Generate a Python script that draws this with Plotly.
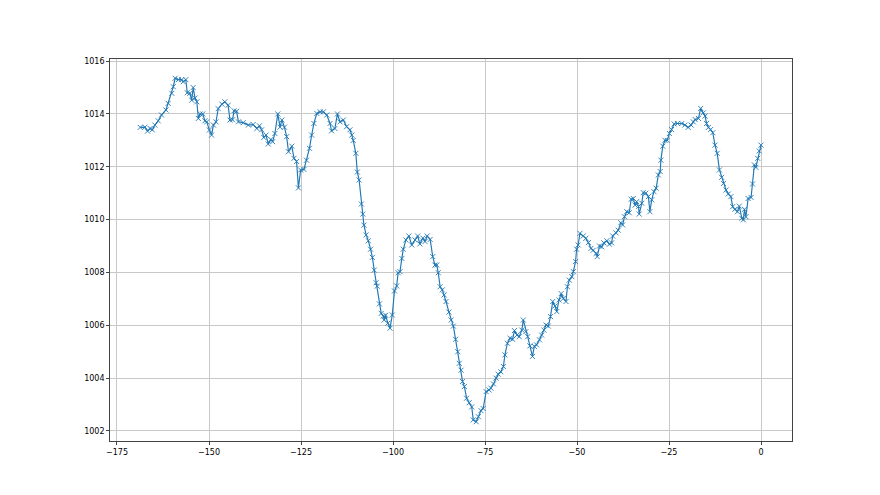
import plotly.graph_objects as go

hours = [
    -168.7, -167.4, -166.7, -166.0, -165.4, -164.7, -163.8, -162.9, -161.7, -161.1,
    -160.1, -159.7, -159.2, -158.3, -157.4, -157.0, -156.3, -155.9, -155.2, -154.7,
    -154.3, -153.8, -153.3, -152.9, -152.4, -151.7, -151.1, -150.6, -149.9, -149.3,
    -148.8, -148.1, -147.5, -146.5, -145.7, -144.8, -144.3, -143.6, -143.2, -142.5,
    -142.0, -140.7, -139.3, -138.0, -137.0, -136.3, -135.7, -135.1, -134.5, -133.9,
    -133.2, -132.7, -132.1, -131.3, -130.7, -130.2, -129.5, -128.9, -128.4, -127.5,
    -126.9, -126.2, -125.7, -125.1, -124.2, -123.5, -122.7, -122.1, -121.5, -120.7,
    -119.8, -118.9, -118.0, -117.1, -116.7, -115.8, -115.1, -114.4, -113.5, -112.6,
    -111.7, -111.2, -110.8, -110.1, -109.7, -109.2, -108.6, -108.2, -107.9, -107.3,
    -106.7, -106.1, -105.6, -105.1, -104.6, -104.3, -103.7, -103.2, -102.6, -102.4,
    -102.0, -101.4, -100.8, -100.2, -99.6, -99.0, -98.6, -98.1, -97.6, -97.2,
    -96.5, -95.7, -94.9, -94.0, -93.3, -92.7, -91.9, -91.3, -90.7, -89.9,
    -89.2, -88.6, -88.1, -87.7, -87.2, -86.6, -86.1, -85.6, -84.8, -84.2,
    -83.6, -83.0, -82.4, -82.0, -81.5, -81.1, -80.6, -80.0, -79.3, -78.6,
    -78.2, -77.4, -76.8, -76.1, -75.5, -74.7, -73.9, -73.4, -72.7, -72.0,
    -71.4, -70.7, -70.0, -69.6, -68.9, -68.2, -67.5, -67.0, -66.3, -65.7,
    -65.0, -64.6, -63.9, -63.4, -62.8, -62.1, -61.6, -61.0, -60.2, -59.6,
    -59.0, -58.4, -57.8, -57.2, -56.6, -56.0, -55.5, -54.9, -54.3, -53.7,
    -53.0, -52.6, -52.1, -51.4, -51.0, -50.4, -50.1, -49.7, -49.2, -48.3,
    -47.6, -46.9, -46.2, -45.6, -44.8, -44.5, -43.9, -43.3, -42.7, -41.9,
    -41.2, -40.6, -40.3, -39.4, -38.8, -38.1, -37.6, -37.1, -36.5, -35.8,
    -35.3, -34.7, -34.2, -33.8, -33.3, -33.1, -32.4, -32.0, -31.3, -30.6,
    -30.2, -29.7, -29.1, -28.5, -27.9, -27.4, -27.2, -26.7, -26.1, -25.5,
    -24.9, -24.3, -23.6, -22.7, -21.5, -20.7, -19.8, -19.0, -18.4, -17.9,
    -17.0, -16.4, -15.7, -15.2, -14.8, -14.3, -13.7, -13.1, -12.5, -11.9,
    -11.3, -10.7, -10.2, -9.5, -8.9, -8.2, -7.7, -7.1, -6.4, -5.9,
    -5.2, -4.8, -4.5, -4.1, -3.5, -2.7, -2.3, -1.8, -1.4, -0.9,
    -0.5, 0.0,
]

pressure = [
    1013.49, 1013.50, 1013.35, 1013.45, 1013.40, 1013.58, 1013.74, 1013.96, 1014.15, 1014.40,
    1014.78, 1015.03, 1015.35, 1015.30, 1015.30, 1015.22, 1015.30, 1014.80, 1014.78, 1014.52,
    1015.00, 1014.60, 1014.46, 1013.83, 1014.00, 1014.00, 1013.74, 1013.70, 1013.39, 1013.20,
    1013.58, 1013.70, 1014.20, 1014.37, 1014.46, 1014.33, 1013.77, 1013.78, 1014.12, 1014.10,
    1013.70, 1013.67, 1013.58, 1013.60, 1013.45, 1013.55, 1013.40, 1013.11, 1013.20, 1012.86,
    1013.03, 1012.95, 1013.26, 1014.00, 1013.50, 1013.77, 1013.50, 1013.14, 1012.57, 1012.78,
    1012.32, 1012.20, 1011.20, 1011.88, 1011.90, 1012.25, 1012.70, 1013.20, 1013.64, 1014.02,
    1014.08, 1014.08, 1013.96, 1013.64, 1013.36, 1013.45, 1014.00, 1013.70, 1013.77, 1013.52,
    1013.40, 1013.20, 1013.00, 1012.51, 1011.80, 1011.50, 1010.59, 1010.21, 1009.79, 1009.42,
    1009.20, 1008.88, 1008.57, 1008.09, 1007.61, 1007.48, 1006.81, 1006.45, 1006.35, 1006.20,
    1006.38, 1006.08, 1005.89, 1006.39, 1007.30, 1007.49, 1007.99, 1008.03, 1008.53, 1008.88,
    1009.23, 1009.38, 1009.04, 1009.23, 1009.38, 1009.08, 1009.30, 1009.17, 1009.38, 1009.25,
    1008.60, 1008.28, 1008.28, 1007.99, 1007.46, 1007.34, 1007.15, 1006.90, 1006.50, 1006.20,
    1005.97, 1005.47, 1005.00, 1004.56, 1004.30, 1003.87, 1003.68, 1003.24, 1003.07, 1002.91,
    1002.42, 1002.35, 1002.54, 1002.77, 1002.85, 1003.49, 1003.55, 1003.62, 1003.78, 1004.00,
    1004.15, 1004.24, 1004.44, 1004.88, 1005.32, 1005.51, 1005.47, 1005.80, 1005.63, 1005.57,
    1005.82, 1006.20, 1005.76, 1005.57, 1005.22, 1004.82, 1005.20, 1005.26, 1005.45, 1005.63,
    1005.82, 1006.01, 1005.97, 1006.33, 1006.90, 1006.73, 1006.52, 1006.96, 1007.20, 1007.02,
    1006.90, 1007.46, 1007.71, 1007.84, 1008.03, 1008.41, 1008.88, 1009.04, 1009.48, 1009.38,
    1009.29, 1009.13, 1008.91, 1008.84, 1008.72, 1008.60, 1009.00, 1008.97, 1009.12, 1009.20,
    1009.07, 1009.12, 1009.38, 1009.50, 1009.60, 1009.88, 1009.80, 1010.11, 1010.30, 1010.26,
    1010.77, 1010.80, 1010.55, 1010.68, 1010.50, 1010.21, 1010.62, 1011.02, 1011.00, 1010.87,
    1010.30, 1010.75, 1011.06, 1011.19, 1011.69, 1011.82, 1012.25, 1012.78, 1013.00, 1013.00,
    1013.26, 1013.41, 1013.62, 1013.64, 1013.64, 1013.58, 1013.49, 1013.58, 1013.70, 1013.79,
    1013.83, 1014.21, 1014.04, 1013.92, 1013.64, 1013.49, 1013.41, 1013.29, 1012.82, 1012.51,
    1011.88, 1011.60, 1011.37, 1011.12, 1010.97, 1010.87, 1010.49, 1010.39, 1010.30, 1010.51,
    1010.05, 1009.99, 1010.39, 1010.11, 1010.80, 1010.84, 1011.35, 1012.07, 1011.98, 1012.32,
    1012.60, 1012.82,
]

x_ticks = [-175, -150, -125, -100, -75, -50, -25, 0]
y_ticks = [1002, 1004, 1006, 1008, 1010, 1012, 1014, 1016]

fig = go.Figure()
fig.add_trace(go.Scatter(
    x=hours, y=pressure, mode="lines+markers",
    line=dict(color="#1f77b4", width=1.15),
    marker=dict(symbol="x-thin", size=5, color="#1f77b4",
                line=dict(width=0.9, color="#1f77b4")),
    showlegend=False,
))

axis_common = dict(
    showline=True, linecolor="#444444", linewidth=0.8, mirror=True,
    showgrid=True, gridcolor="#c8c8c8", gridwidth=0.7,
    ticks="outside", ticklen=3, tickwidth=0.7, tickcolor="#444444",
    zeroline=False,
    tickfont=dict(family="DejaVu Sans", size=8, color="#000000"),
)

fig.update_xaxes(range=[-176.9, 8.42], tickmode="array", tickvals=x_ticks, **axis_common)
fig.update_yaxes(range=[1001.62, 1016.08], tickmode="array", tickvals=y_ticks, **axis_common)

fig.update_layout(
    width=880, height=495,
    margin=dict(l=102, r=96, t=51, b=62, pad=0),
    paper_bgcolor="white", plot_bgcolor="white",
)

fig.write_html("out.html")
